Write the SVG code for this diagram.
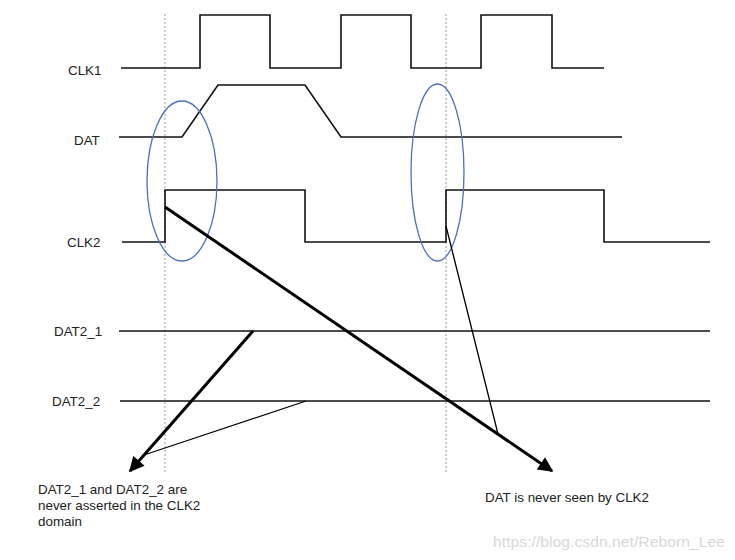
<svg xmlns="http://www.w3.org/2000/svg" width="735" height="560" viewBox="0 0 735 560">
<defs>
<marker id="ah" viewBox="0 0 10 10" refX="9" refY="5" markerWidth="5.5" markerHeight="5" orient="auto" markerUnits="strokeWidth">
<path d="M0,0 L10,5 L0,10 z" fill="#000"/>
</marker>
</defs>
<style>
.lbl{font-family:"Liberation Sans",Arial,sans-serif;font-size:13.4px;fill:#222}
.wave{fill:none;stroke:#111;stroke-width:1.6}
.guide{stroke:#999;stroke-width:1;stroke-dasharray:2,2}
.ell{fill:none;stroke:#4a6fc0;stroke-width:1.3}
.thick{stroke:#000;stroke-width:3;fill:none}
.thin{stroke:#000;stroke-width:1.3;fill:none}
</style>
<rect width="735" height="560" fill="#fff"/>
<g id="guides">
<line class="guide" x1="165" y1="14" x2="165" y2="472"/>
<line class="guide" x1="446" y1="14" x2="446" y2="472"/>
</g>
<g id="clk1">
<text class="lbl" x="68" y="75">CLK1</text>
<polyline class="wave" points="121,68 200,68 200,15 270,15 270,68 341,68 341,15 411,15 411,68 481,68 481,15 552,15 552,68 604,68"/>
</g>
<g id="dat">
<text class="lbl" x="74" y="145">DAT</text>
<polyline class="wave" points="119,137 182,137 218,85 305,85 341,137 622,137"/>
</g>
<g id="clk2">
<text class="lbl" x="67" y="247">CLK2</text>
<polyline class="wave" points="122,242 165,242 165,190 305,190 305,242 446,242 446,190 604,190 604,242 710,242"/>
</g>
<g id="dat2_1">
<text class="lbl" x="54" y="336">DAT2_1</text>
<line class="wave" x1="119" y1="331" x2="710" y2="331"/>
</g>
<g id="dat2_2">
<text class="lbl" x="52" y="406">DAT2_2</text>
<line class="wave" x1="120" y1="401" x2="710" y2="401"/>
</g>
<g id="ellipses">
<ellipse class="ell" cx="182" cy="181" rx="35" ry="80"/>
<ellipse class="ell" cx="437.5" cy="172.5" rx="26.5" ry="88.5"/>
</g>
<g id="connectors">
<line class="thick" x1="165" y1="207" x2="552" y2="471" marker-end="url(#ah)"/>
<line class="thin" x1="446" y1="226" x2="498" y2="434"/>
<line class="thick" x1="253" y1="331" x2="130" y2="471" marker-end="url(#ah)"/>
<line class="thin" x1="306" y1="401" x2="144" y2="455"/>
</g>
<g id="note1">
<text class="lbl" x="38" y="494">DAT2_1 and DAT2_2 are</text>
<text class="lbl" x="38" y="510">never asserted in the CLK2</text>
<text class="lbl" x="38" y="526">domain</text>
</g>
<g id="note2">
<text class="lbl" x="485" y="502">DAT is never seen by CLK2</text>
</g>
<text x="493" y="547" font-family="'Liberation Sans',Arial,sans-serif" font-size="15" fill="#d8d8d8" textLength="232" lengthAdjust="spacingAndGlyphs">https://blog.csdn.net/Reborn_Lee</text>
</svg>
